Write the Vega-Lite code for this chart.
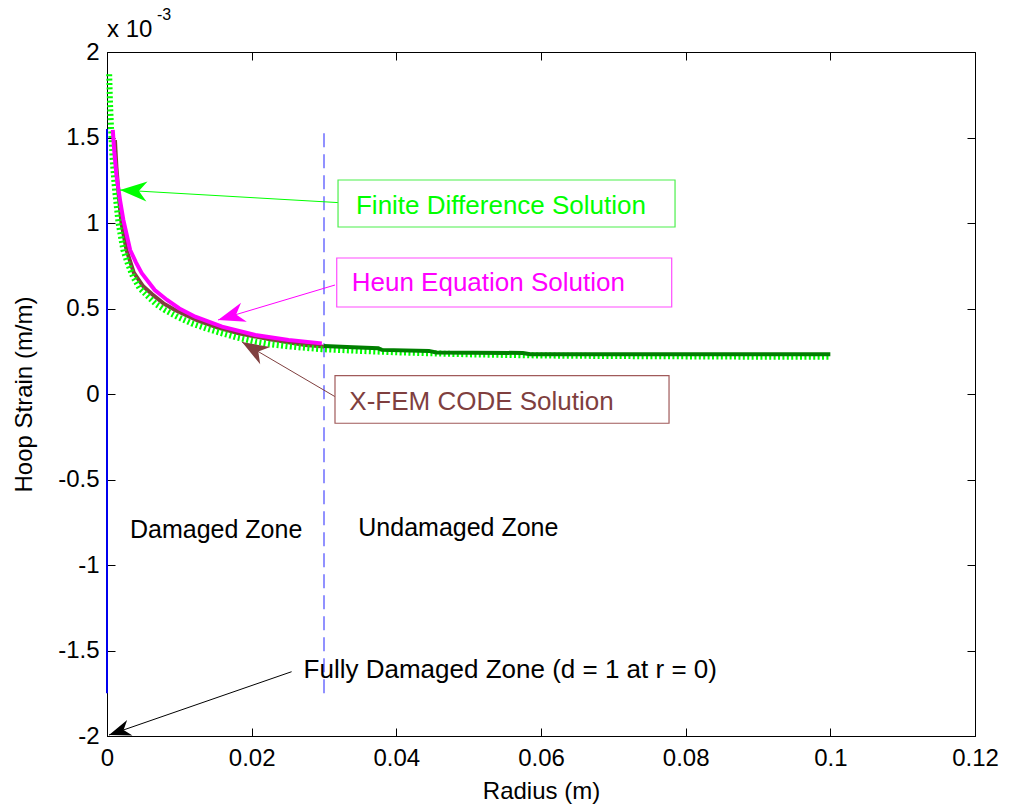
{
  "$schema": "https://vega.github.io/schema/vega-lite/v6.json",
  "width": 868,
  "height": 684,
  "autosize": {"type": "none"},
  "padding": {"left": 107, "top": 52, "right": 37, "bottom": 73},
  "background": "white",
  "config": {
    "view": {"stroke": "black", "strokeWidth": 1},
    "font": "Liberation Sans",
    "axis": {
      "labelFont": "Liberation Sans", "titleFont": "Liberation Sans",
      "labelFontSize": 24, "titleFontSize": 24, "titleFontWeight": "normal",
      "labelColor": "black", "titleColor": "black", "domainColor": "black", "tickColor": "black",
      "grid": false, "tickSize": -8, "labelOverlap": false, "labelFlush": false, "labelBound": false
    }
  },
  "datasets": {
    "fd": [
      {"r": 0.0003, "v": 1.87}, {"r": 0.0004, "v": 1.72}, {"r": 0.00055, "v": 1.56}, {"r": 0.0008, "v": 1.36},
      {"r": 0.0011, "v": 1.2}, {"r": 0.0013, "v": 1.12}, {"r": 0.0016, "v": 1.0}, {"r": 0.00226, "v": 0.842},
      {"r": 0.0029, "v": 0.76}, {"r": 0.0036, "v": 0.686}, {"r": 0.0045, "v": 0.62}, {"r": 0.0057, "v": 0.569},
      {"r": 0.0068, "v": 0.525}, {"r": 0.008, "v": 0.491}, {"r": 0.0098, "v": 0.45}, {"r": 0.0117, "v": 0.413},
      {"r": 0.0138, "v": 0.382}, {"r": 0.0159, "v": 0.355}, {"r": 0.018, "v": 0.33}, {"r": 0.0205, "v": 0.306},
      {"r": 0.0228, "v": 0.29}, {"r": 0.0255, "v": 0.277}, {"r": 0.0297, "v": 0.262}, {"r": 0.035, "v": 0.252},
      {"r": 0.0405, "v": 0.243}, {"r": 0.05, "v": 0.232}, {"r": 0.06, "v": 0.225}, {"r": 0.07, "v": 0.222},
      {"r": 0.08, "v": 0.22}, {"r": 0.09, "v": 0.218}, {"r": 0.1, "v": 0.218}
    ],
    "heun": [
      {"r": 0.0008, "v": 1.545}, {"r": 0.001, "v": 1.42}, {"r": 0.0013, "v": 1.28}, {"r": 0.0018, "v": 1.135},
      {"r": 0.00226, "v": 1.018}, {"r": 0.0032, "v": 0.842}, {"r": 0.004, "v": 0.77}, {"r": 0.0048, "v": 0.706},
      {"r": 0.0066, "v": 0.608}, {"r": 0.0083, "v": 0.55}, {"r": 0.01, "v": 0.5}, {"r": 0.0122, "v": 0.452},
      {"r": 0.0159, "v": 0.394}, {"r": 0.0205, "v": 0.345}, {"r": 0.0251, "v": 0.316}, {"r": 0.0297, "v": 0.296}
    ],
    "xfem": [
      {"r": 0.0011, "v": 1.485}, {"r": 0.0013, "v": 1.33}, {"r": 0.0016, "v": 1.17}, {"r": 0.002, "v": 1.0},
      {"r": 0.0027, "v": 0.842}, {"r": 0.0037, "v": 0.71}, {"r": 0.005, "v": 0.63}, {"r": 0.0062, "v": 0.585},
      {"r": 0.0078, "v": 0.53}, {"r": 0.0094, "v": 0.491}, {"r": 0.0125, "v": 0.43}, {"r": 0.0152, "v": 0.39},
      {"r": 0.0182, "v": 0.355}, {"r": 0.0225, "v": 0.32}, {"r": 0.0274, "v": 0.287}, {"r": 0.03, "v": 0.277}
    ],
    "xfem2": [
      {"r": 0.03, "v": 0.28}, {"r": 0.034, "v": 0.273}, {"r": 0.0375, "v": 0.267}, {"r": 0.038, "v": 0.258},
      {"r": 0.0445, "v": 0.252}, {"r": 0.0455, "v": 0.243}, {"r": 0.0575, "v": 0.24}, {"r": 0.0585, "v": 0.232},
      {"r": 0.1, "v": 0.232}
    ],
    "zone0": [{"r": 0, "v": -1.75, "v2": 1.55}],
    "zone1": [{"r": 0.03, "v": -1.75, "v2": 1.55}],
    "boxes": [
      {"name": "fd", "r": 0.03194, "r2": 0.07853, "v": 0.9766, "v2": 1.2515},
      {"name": "heun", "r": 0.03176, "r2": 0.07807, "v": 0.5088, "v2": 0.7953},
      {"name": "xfem", "r": 0.03152, "r2": 0.0777, "v": -0.171, "v2": 0.107}
    ],
    "labels": [
      {"name": "fd", "text": "Finite Difference Solution", "r": 0.03442, "v": 1.1006},
      {"name": "heun", "text": "Heun Equation Solution", "r": 0.03383, "v": 0.652},
      {"name": "xfem", "text": "X-FEM CODE Solution", "r": 0.0335, "v": -0.0497},
      {"name": "black", "text": "Fully Damaged Zone (d = 1 at r = 0)", "r": 0.02718, "v": -1.614}
    ],
    "zonelabels": [
      {"name": "black", "text": "Damaged Zone", "r": 0.00318, "v": -0.795},
      {"name": "black", "text": "Undamaged Zone", "r": 0.03474, "v": -0.785}
    ],
    "arrows": [
      {"name": "fd", "r": 0.0329, "v": 1.117, "r2": 0.0018, "v2": 1.193},
      {"name": "heun", "r": 0.03152, "v": 0.6374, "r2": 0.01535, "v2": 0.433},
      {"name": "xfem", "r": 0.03207, "v": -0.029, "r2": 0.01866, "v2": 0.304},
      {"name": "black", "r": 0.02552, "v": -1.624, "r2": 0.00028, "v2": -1.994}
    ],
    "expo": [
      {"t": "x 10", "r": 0, "v": 2.13},
      {"t": "-3", "r": 0.0069, "v": 2.215}
    ]
  },
  "encoding": {
    "x": {"field": "r", "type": "quantitative", "scale": {"domain": [0, 0.12], "nice": false, "zero": false}, "axis": null},
    "y": {"field": "v", "type": "quantitative", "scale": {"domain": [-2, 2], "nice": false, "zero": false}, "axis": null}
  },
  "layer": [
    {
      "data": {"name": "zone0"},
      "mark": {"type": "rule", "color": "#0000ee", "strokeWidth": 2},
      "encoding": {
        "x": {"field": "r", "type": "quantitative", "scale": {"domain": [0, 0.12], "nice": false, "zero": false},
          "axis": {"orient": "bottom", "values": [0, 0.02, 0.04, 0.06, 0.08, 0.1, 0.12], "labelExpr": "'' + datum.value",
            "title": "Radius (m)", "titleX": 434, "titleY": 55, "titleBaseline": "middle", "labelPadding": 18}},
        "y": {"field": "v", "type": "quantitative", "scale": {"domain": [-2, 2], "nice": false, "zero": false},
          "axis": {"orient": "left", "values": [-2, -1.5, -1, -0.5, 0, 0.5, 1, 1.5, 2], "labelExpr": "'' + datum.value",
            "title": "Hoop Strain (m/m)", "titleX": -83, "titleY": 342, "titleAngle": -90, "titleAlign": "center", "titleBaseline": "middle", "labelPadding": 16}},
        "y2": {"field": "v2"}
      }
    },
    {
      "data": {"name": "zone1"},
      "mark": {"type": "rule", "color": "#6e6eff", "strokeWidth": 1.5, "strokeDash": [14, 7]},
      "encoding": {
        "x": {"field": "r", "type": "quantitative", "scale": {"domain": [0, 0.12], "nice": false, "zero": false},
          "axis": {"orient": "top", "values": [0, 0.02, 0.04, 0.06, 0.08, 0.1, 0.12], "labels": false, "title": null, "domain": false}},
        "y": {"field": "v", "type": "quantitative", "scale": {"domain": [-2, 2], "nice": false, "zero": false},
          "axis": {"orient": "right", "values": [-2, -1.5, -1, -0.5, 0, 0.5, 1, 1.5, 2], "labels": false, "title": null, "domain": false}},
        "y2": {"field": "v2"}
      }
    },
    {
      "data": {"name": "xfem"},
      "mark": {"type": "line", "color": "#7f3f3f", "strokeWidth": 4}
    },
    {
      "data": {"name": "fd"},
      "mark": {"type": "line", "color": "#00ff00", "strokeWidth": 6, "strokeDash": [2, 2.4]}
    },
    {
      "data": {"name": "xfem2"},
      "mark": {"type": "line", "color": "#007f00", "strokeWidth": 4}
    },
    {
      "data": {"name": "heun"},
      "mark": {"type": "line", "color": "#ff00ff", "strokeWidth": 4}
    },
    {
      "data": {"name": "arrows"},
      "mark": {"type": "rule", "strokeWidth": 1},
      "encoding": {
        "x2": {"field": "r2"},
        "y2": {"field": "v2"},
        "color": {"field": "name", "type": "nominal", "legend": null,
          "scale": {"domain": ["fd", "heun", "xfem", "black"], "range": ["#00ff00", "#ff00ff", "#7f3f3f", "#000000"]}}
      }
    },
    {
      "data": {"name": "arrows"},
      "transform": [{"filter": "datum.name === 'fd'"}],
      "mark": {"type": "point", "shape": "M0,0L-1,-0.37L-0.7,0L-1,0.37Z", "size": 2916, "angle": 183.3, "filled": true, "opacity": 1, "color": "#00ff00", "strokeWidth": 0},
      "encoding": {
        "x": {"field": "r2", "type": "quantitative", "scale": {"domain": [0, 0.12], "nice": false, "zero": false}, "axis": null},
        "y": {"field": "v2", "type": "quantitative", "scale": {"domain": [-2, 2], "nice": false, "zero": false}, "axis": null}
      }
    },
    {
      "data": {"name": "arrows"},
      "transform": [{"filter": "datum.name === 'heun'"}],
      "mark": {"type": "point", "shape": "M0,0L-1,-0.37L-0.7,0L-1,0.37Z", "size": 2916, "angle": 163.3, "filled": true, "opacity": 1, "color": "#ff00ff", "strokeWidth": 0},
      "encoding": {
        "x": {"field": "r2", "type": "quantitative", "scale": {"domain": [0, 0.12], "nice": false, "zero": false}, "axis": null},
        "y": {"field": "v2", "type": "quantitative", "scale": {"domain": [-2, 2], "nice": false, "zero": false}, "axis": null}
      }
    },
    {
      "data": {"name": "arrows"},
      "transform": [{"filter": "datum.name === 'xfem'"}],
      "mark": {"type": "point", "shape": "M0,0L-1,-0.37L-0.7,0L-1,0.37Z", "size": 2916, "angle": 210.4, "filled": true, "opacity": 1, "color": "#7f3f3f", "strokeWidth": 0},
      "encoding": {
        "x": {"field": "r2", "type": "quantitative", "scale": {"domain": [0, 0.12], "nice": false, "zero": false}, "axis": null},
        "y": {"field": "v2", "type": "quantitative", "scale": {"domain": [-2, 2], "nice": false, "zero": false}, "axis": null}
      }
    },
    {
      "data": {"name": "arrows"},
      "transform": [{"filter": "datum.name === 'black'"}],
      "mark": {"type": "point", "shape": "M0,0L-1,-0.37L-0.7,0L-1,0.37Z", "size": 1936, "angle": 160.9, "filled": true, "opacity": 1, "color": "#000000", "strokeWidth": 0},
      "encoding": {
        "x": {"field": "r2", "type": "quantitative", "scale": {"domain": [0, 0.12], "nice": false, "zero": false}, "axis": null},
        "y": {"field": "v2", "type": "quantitative", "scale": {"domain": [-2, 2], "nice": false, "zero": false}, "axis": null}
      }
    },
    {
      "data": {"name": "boxes"},
      "mark": {"type": "rect", "fill": "white", "strokeWidth": 1.2},
      "encoding": {
        "x2": {"field": "r2"},
        "y2": {"field": "v2"},
        "stroke": {"field": "name", "type": "nominal", "legend": null,
          "scale": {"domain": ["fd", "heun", "xfem"], "range": ["#4cf04c", "#ff4cff", "#a05a5a"]}}
      }
    },
    {
      "data": {"name": "labels"},
      "mark": {"type": "text", "align": "left", "baseline": "middle", "fontSize": 26, "font": "Liberation Sans"},
      "encoding": {
        "text": {"field": "text"},
        "color": {"field": "name", "type": "nominal", "legend": null,
          "scale": {"domain": ["fd", "heun", "xfem", "black"], "range": ["#00ff00", "#ff00ff", "#7f3f3f", "#000000"]}}
      }
    },
    {
      "data": {"name": "zonelabels"},
      "mark": {"type": "text", "align": "left", "baseline": "middle", "fontSize": 25, "font": "Liberation Sans", "color": "black"},
      "encoding": {"text": {"field": "text"}}
    },
    {
      "data": {"name": "expo"},
      "transform": [{"filter": "datum.t === 'x 10'"}],
      "mark": {"type": "text", "align": "left", "baseline": "middle", "fontSize": 24, "font": "Liberation Sans", "color": "black"},
      "encoding": {"text": {"field": "t"}}
    },
    {
      "data": {"name": "expo"},
      "transform": [{"filter": "datum.t === '-3'"}],
      "mark": {"type": "text", "align": "left", "baseline": "middle", "fontSize": 16, "font": "Liberation Sans", "color": "black"},
      "encoding": {"text": {"field": "t"}}
    }
  ],
  "resolve": {"axis": {"x": "independent", "y": "independent"}}
}
